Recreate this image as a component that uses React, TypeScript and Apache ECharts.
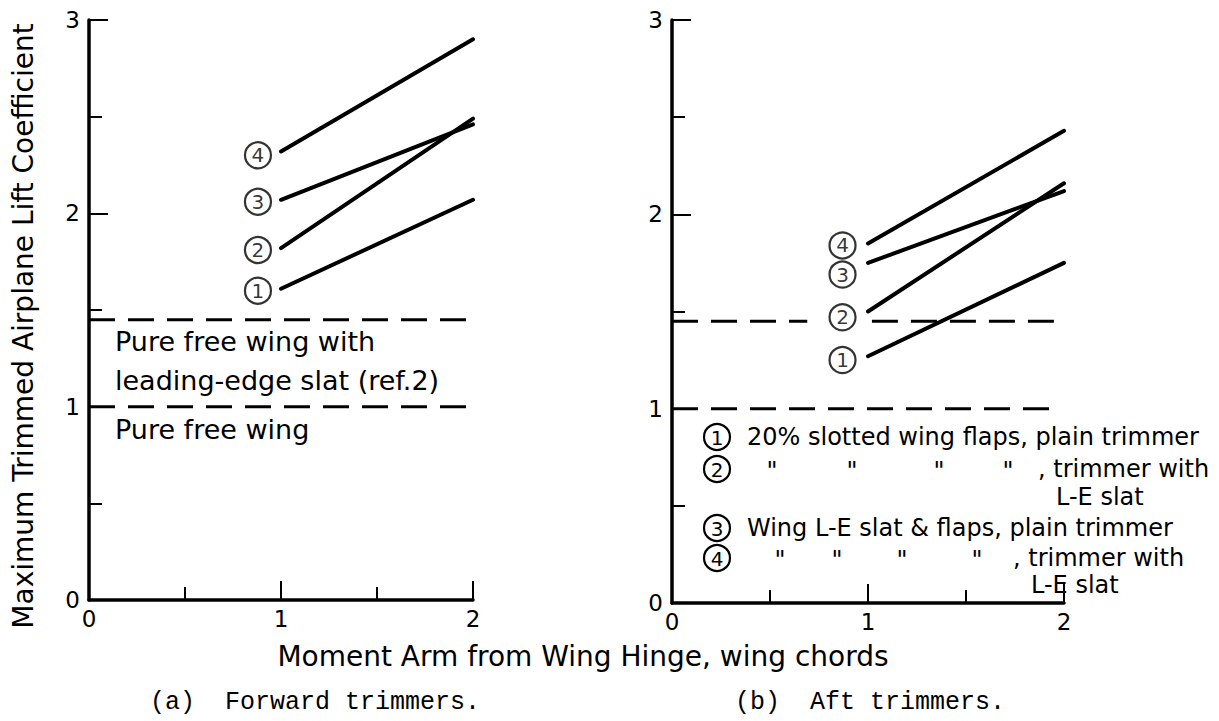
import React, { useEffect, useRef } from "react";
import * as echarts from "echarts";

// ---------- data ----------
const xTicks = [0, 1, 2];
const yTicks = [0, 1, 2, 3];
const xTitle = "Moment Arm from Wing Hinge, wing chords";
const yTitle = "Maximum Trimmed Airplane Lift Coefficient";
const captionA = "(a)  Forward trimmers.";
const captionB = "(b)  Aft trimmers.";

// (a) Forward trimmers: [moment arm, CL]
const fwd1 = [[1, 1.61], [2, 2.07]];
const fwd2 = [[1, 1.82], [2, 2.49]];
const fwd3 = [[1, 2.07], [2, 2.46]];
const fwd4 = [[1, 2.32], [2, 2.9]];
const fwdSlatWing = [[0, 1.45], [2, 1.45]];
const fwdFreeWing = [[0, 1.0], [2, 1.0]];
const fwdMarkers = [[0.88, 1.6, "1"], [0.88, 1.81, "2"], [0.88, 2.06, "3"], [0.88, 2.3, "4"]];
const fwdNotes = ["Pure free wing with", "leading-edge slat (ref.2)", "Pure free wing"];

// (b) Aft trimmers
const aft1 = [[1, 1.27], [2, 1.75]];
const aft2 = [[1, 1.5], [2, 2.16]];
const aft3 = [[1, 1.75], [2, 2.12]];
const aft4 = [[1, 1.85], [2, 2.43]];
const aftSlatWingA = [[0, 1.45], [0.69, 1.45]];
const aftSlatWingB = [[1.02, 1.45], [2, 1.45]];
const aftFreeWing = [[0, 1.0], [1.95, 1.0]];
const aftMarkers = [[0.87, 1.25, "1"], [0.87, 1.47, "2"], [0.87, 1.69, "3"], [0.87, 1.84, "4"]];

const legendRow1 = "20% slotted wing flaps, plain trimmer";
const legendRow3 = "Wing L-E slat & flaps, plain trimmer";
const legendTail = ", trimmer with";
const legendTail2 = "L-E slat";
const ditto = "\"";

const FONT = "DejaVu Sans";

export default function App() {
  const ref = useRef<HTMLDivElement>(null);
  useEffect(() => {
    if (!ref.current) return;
    const chart = echarts.init(ref.current, undefined, { renderer: "svg" });

    const axisCommon = {
      axisLine: { show: true, onZero: false, lineStyle: { color: "#000", width: 3.5 } },
      axisTick: { show: true, inside: true, length: 19, lineStyle: { color: "#000", width: 2 } },
      minorTick: { show: true, splitNumber: 2, length: 13, lineStyle: { color: "#000", width: 2 } },
      splitLine: { show: false },
      minorSplitLine: { show: false },
    };
    const xAxisFor = (gi: number) => ({
      type: "value",
      gridIndex: gi,
      min: xTicks[0],
      max: xTicks[xTicks.length - 1],
      interval: 1,
      ...axisCommon,
      axisLabel: { color: "#000", fontSize: 23, fontFamily: FONT, margin: 7 },
    });
    const yAxisFor = (gi: number) => ({
      type: "value",
      gridIndex: gi,
      min: yTicks[0],
      max: yTicks[yTicks.length - 1],
      interval: 1,
      ...axisCommon,
      axisLabel: { color: "#000", fontSize: 23, fontFamily: FONT, margin: 9 },
    });

    const solid = (data: number[][], gi: number) => ({
      type: "line",
      xAxisIndex: gi,
      yAxisIndex: gi,
      data,
      showSymbol: false,
      symbol: "none",
      lineStyle: { color: "#000", width: 4, cap: "round" },
      z: 3,
    });
    const dashed = (data: number[][], gi: number) => ({
      type: "line",
      xAxisIndex: gi,
      yAxisIndex: gi,
      data,
      showSymbol: false,
      symbol: "none",
      lineStyle: { color: "#000", width: 3, type: [26, 13] },
      z: 2,
    });
    const markers = (data: any[], gi: number) => ({
      type: "scatter",
      xAxisIndex: gi,
      yAxisIndex: gi,
      data,
      symbol: "circle",
      symbolSize: 26,
      itemStyle: { color: "#fff", borderColor: "#000", borderWidth: 2.2 },
      label: {
        show: true,
        position: "inside",
        color: "#000",
        fontSize: 20,
        fontFamily: FONT,
        formatter: (p: any) => p.value[2],
      },
      z: 5,
    });

    const txt = (text: string, x: number, y: number, size: number, align = "left", family = FONT, extra: any = {}) => ({
      type: "text",
      x,
      y,
      ...extra,
      style: {
        text,
        fill: "#000",
        fontSize: size,
        fontFamily: family,
        align,
        textAlign: align,
        verticalAlign: "middle",
        textVerticalAlign: "middle",
      },
    });
    const circ = (digit: string, x: number, y: number) => ({
      type: "group",
      x,
      y,
      children: [
        { type: "circle", shape: { cx: 0, cy: 0, r: 13 }, style: { fill: "#fff", stroke: "#000", lineWidth: 2.2 } },
        txt(digit, 0, 1, 20, "center"),
      ],
    });

    const graphic: any[] = [
      txt(yTitle, 23, 326, 28, "center", FONT, { rotation: Math.PI / 2 }),
      txt(xTitle, 583, 656, 28, "center"),
      txt(captionA, 150, 702, 25, "left", "Liberation Mono"),
      txt(captionB, 735, 702, 25, "left", "Liberation Mono"),
      txt(fwdNotes[0], 115, 341, 27),
      txt(fwdNotes[1], 115, 380, 27),
      txt(fwdNotes[2], 115, 429, 27),
      circ("1", 717, 437),
      txt(legendRow1, 747, 437, 24),
      circ("2", 717, 469),
      txt(ditto, 772, 471, 24, "center"),
      txt(ditto, 852, 471, 24, "center"),
      txt(ditto, 939, 471, 24, "center"),
      txt(ditto, 1008, 471, 24, "center"),
      txt(legendTail, 1038, 469, 24),
      txt(legendTail2, 1056, 497, 24),
      circ("3", 717, 528),
      txt(legendRow3, 747, 528, 24),
      circ("4", 717, 558),
      txt(ditto, 780, 560, 24, "center"),
      txt(ditto, 837, 560, 24, "center"),
      txt(ditto, 902, 560, 24, "center"),
      txt(ditto, 977, 560, 24, "center"),
      txt(legendTail, 1013, 558, 24),
      txt(legendTail2, 1031, 585, 24),
    ];

    chart.setOption({
      animation: false,
      backgroundColor: "#fff",
      grid: [
        { left: 89, top: 20, width: 384, height: 580 },
        { left: 672, top: 20, width: 392, height: 583 },
      ],
      xAxis: [xAxisFor(0), xAxisFor(1)],
      yAxis: [yAxisFor(0), yAxisFor(1)],
      series: [
        solid(fwd1, 0),
        solid(fwd2, 0),
        solid(fwd3, 0),
        solid(fwd4, 0),
        dashed(fwdSlatWing, 0),
        dashed(fwdFreeWing, 0),
        markers(fwdMarkers, 0),
        solid(aft1, 1),
        solid(aft2, 1),
        solid(aft3, 1),
        solid(aft4, 1),
        dashed(aftSlatWingA, 1),
        dashed(aftSlatWingB, 1),
        dashed(aftFreeWing, 1),
        markers(aftMarkers, 1),
      ],
      graphic,
    });
    return () => chart.dispose();
  }, []);
  return (
    <div
      ref={ref}
      style={{ position: "absolute", left: 0, top: 0, width: 1219, height: 721, background: "#fff" }}
    />
  );
}
